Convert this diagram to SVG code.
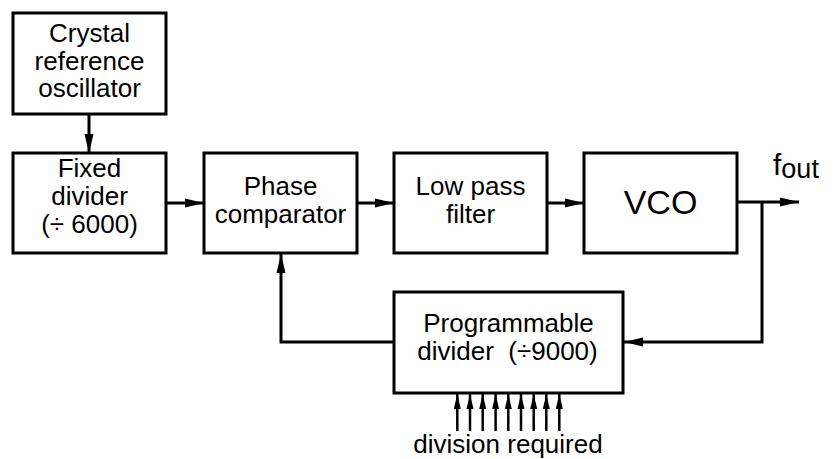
<svg xmlns="http://www.w3.org/2000/svg" width="834" height="459" viewBox="0 0 834 459">
<style>
.box{fill:#fff;stroke:#000;stroke-width:3}
.ln{fill:none;stroke:#000;stroke-width:3}
.ln2{fill:none;stroke:#000;stroke-width:2.5}
text{font-family:"Liberation Sans",Arial,sans-serif;font-size:26px;fill:#000;text-anchor:middle}
</style>
<defs>
<marker id="ah" markerUnits="userSpaceOnUse" markerWidth="20" markerHeight="10" refX="19" refY="5" orient="auto">
<path d="M0,0.5 L19,5 L0,9.5 z" fill="#000"/>
</marker>
<marker id="ahs" markerUnits="userSpaceOnUse" markerWidth="16" markerHeight="8" refX="15" refY="4" orient="auto">
<path d="M0,0.5 L15,4 L0,7.5 z" fill="#000"/>
</marker>
</defs>
<g id="connectors">
<line class="ln" x1="89" y1="114" x2="89" y2="153" marker-end="url(#ah)"/>
<line class="ln" x1="166" y1="203" x2="204" y2="203" marker-end="url(#ah)"/>
<line class="ln" x1="357" y1="203" x2="394" y2="203" marker-end="url(#ah)"/>
<line class="ln" x1="547" y1="203" x2="584" y2="203" marker-end="url(#ah)"/>
<line class="ln" x1="737" y1="202" x2="799" y2="202" marker-end="url(#ah)"/>
<polyline class="ln" points="762,202 762,342 624,342" marker-end="url(#ah)"/>
<polyline class="ln" points="394,342 281,342 281,254" marker-end="url(#ah)"/>
<g class="ln2">
<line x1="457.3" y1="431" x2="457.3" y2="394" marker-end="url(#ahs)"/>
<line x1="470" y1="431" x2="470" y2="394" marker-end="url(#ahs)"/>
<line x1="482.7" y1="431" x2="482.7" y2="394" marker-end="url(#ahs)"/>
<line x1="495.6" y1="431" x2="495.6" y2="394" marker-end="url(#ahs)"/>
<line x1="508.3" y1="431" x2="508.3" y2="394" marker-end="url(#ahs)"/>
<line x1="521" y1="431" x2="521" y2="394" marker-end="url(#ahs)"/>
<line x1="533.7" y1="431" x2="533.7" y2="394" marker-end="url(#ahs)"/>
<line x1="546.3" y1="431" x2="546.3" y2="394" marker-end="url(#ahs)"/>
<line x1="559.3" y1="431" x2="559.3" y2="394" marker-end="url(#ahs)"/>
</g>
</g>
<g id="crystal">
<rect class="box" x="13" y="13" width="153" height="101"/>
<text x="89.5" y="42">Crystal</text>
<text x="89.5" y="70">reference</text>
<text x="89.5" y="97">oscillator</text>
</g>
<g id="fixed">
<rect class="box" x="13" y="153" width="153" height="100"/>
<text x="89.5" y="177">Fixed</text>
<text x="89.5" y="205">divider</text>
<text x="89.5" y="233">(÷ 6000)</text>
</g>
<g id="phase">
<rect class="box" x="204" y="153" width="153" height="100"/>
<text x="280.5" y="195">Phase</text>
<text x="280.5" y="223">comparator</text>
</g>
<g id="lpf">
<rect class="box" x="394" y="153" width="153" height="100"/>
<text x="470.5" y="195">Low pass</text>
<text x="470.5" y="223">filter</text>
</g>
<g id="vco">
<rect class="box" x="584" y="153" width="153" height="100"/>
<text x="660.5" y="214" style="font-size:34px">VCO</text>
</g>
<g id="fout">
<text x="773" y="175" style="font-size:30px;text-anchor:start">f<tspan dy="3" style="font-size:27px">out</tspan></text>
</g>
<g id="prog">
<rect class="box" x="394" y="292" width="229" height="101"/>
<text x="508.5" y="332">Programmable</text>
<text x="507.5" y="360" xml:space="preserve">divider  (÷9000)</text>
</g>
<g id="division">
<text x="508" y="453">division required</text>
</g>
</svg>
